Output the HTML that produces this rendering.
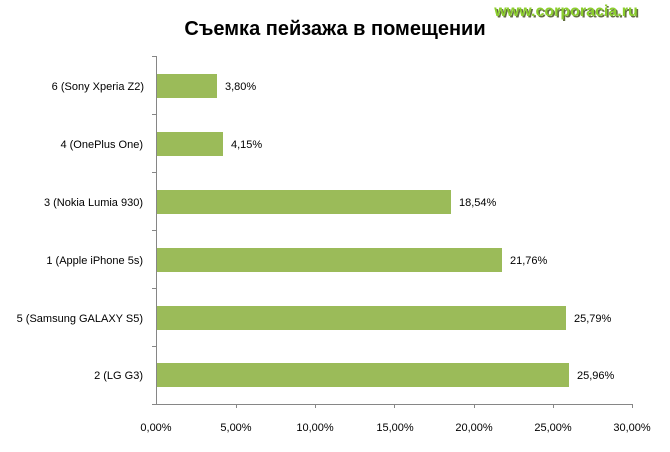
<!DOCTYPE html>
<html><head><meta charset="utf-8"><style>
body{margin:0;background:#fff;}
svg text{font-family:"Liberation Sans","DejaVu Sans",sans-serif;}
</style></head><body>
<svg width="670" height="447" xmlns="http://www.w3.org/2000/svg">
<rect width="670" height="447" fill="#fff"/>
<text x="335" y="35" font-size="20" font-weight="bold" text-anchor="middle" fill="#000">Съемка пейзажа в помещении</text>
<text x="566" y="16" font-size="16" font-weight="bold" text-anchor="middle" fill="#3a4a10" opacity="0.8" transform="translate(1.5,1.5)">www.corporacia.ru</text>
<text x="566" y="16" font-size="16" font-weight="bold" text-anchor="middle" fill="#8ccf2e">www.corporacia.ru</text>
<g stroke="#868686" stroke-width="1">
<line x1="156.5" y1="56" x2="156.5" y2="404"/>
<line x1="156" y1="404.5" x2="633" y2="404.5"/>
<line x1="152" y1="56.5" x2="156" y2="56.5"/>
<line x1="152" y1="114.5" x2="156" y2="114.5"/>
<line x1="152" y1="172.5" x2="156" y2="172.5"/>
<line x1="152" y1="230.5" x2="156" y2="230.5"/>
<line x1="152" y1="288.5" x2="156" y2="288.5"/>
<line x1="152" y1="346.5" x2="156" y2="346.5"/>
<line x1="152" y1="404.5" x2="156" y2="404.5"/>
<line x1="236.5" y1="404" x2="236.5" y2="408"/>
<line x1="315.5" y1="404" x2="315.5" y2="408"/>
<line x1="394.5" y1="404" x2="394.5" y2="408"/>
<line x1="474.5" y1="404" x2="474.5" y2="408"/>
<line x1="553.5" y1="404" x2="553.5" y2="408"/>
<line x1="632.5" y1="404" x2="632.5" y2="408"/>
</g>
<g fill="#9bbb59">
<rect x="157" y="74" width="60" height="24"/>
<rect x="157" y="132" width="66" height="24"/>
<rect x="157" y="190" width="294" height="24"/>
<rect x="157" y="248" width="345" height="24"/>
<rect x="157" y="306" width="409" height="24"/>
<rect x="157" y="363" width="412" height="24"/>
</g>
<g font-size="11" fill="#000">
<text x="225" y="90">3,80%</text>
<text x="231" y="148">4,15%</text>
<text x="459" y="206">18,54%</text>
<text x="510" y="264">21,76%</text>
<text x="574" y="322">25,79%</text>
<text x="577" y="379">25,96%</text>
</g>
<g font-size="11" fill="#000" text-anchor="end">
<text x="144" y="90">6 (Sony Xperia Z2)</text>
<text x="143" y="148">4 (OnePlus One)</text>
<text x="143" y="206">3 (Nokia Lumia 930)</text>
<text x="143" y="264">1 (Apple iPhone 5s)</text>
<text x="143" y="322">5 (Samsung GALAXY S5)</text>
<text x="143" y="379">2 (LG G3)</text>
</g>
<g font-size="11" fill="#000" text-anchor="middle">
<text x="156" y="431">0,00%</text>
<text x="236" y="431">5,00%</text>
<text x="315" y="431">10,00%</text>
<text x="395" y="431">15,00%</text>
<text x="474" y="431">20,00%</text>
<text x="553" y="431">25,00%</text>
<text x="632" y="431">30,00%</text>
</g>
</svg>
</body></html>
